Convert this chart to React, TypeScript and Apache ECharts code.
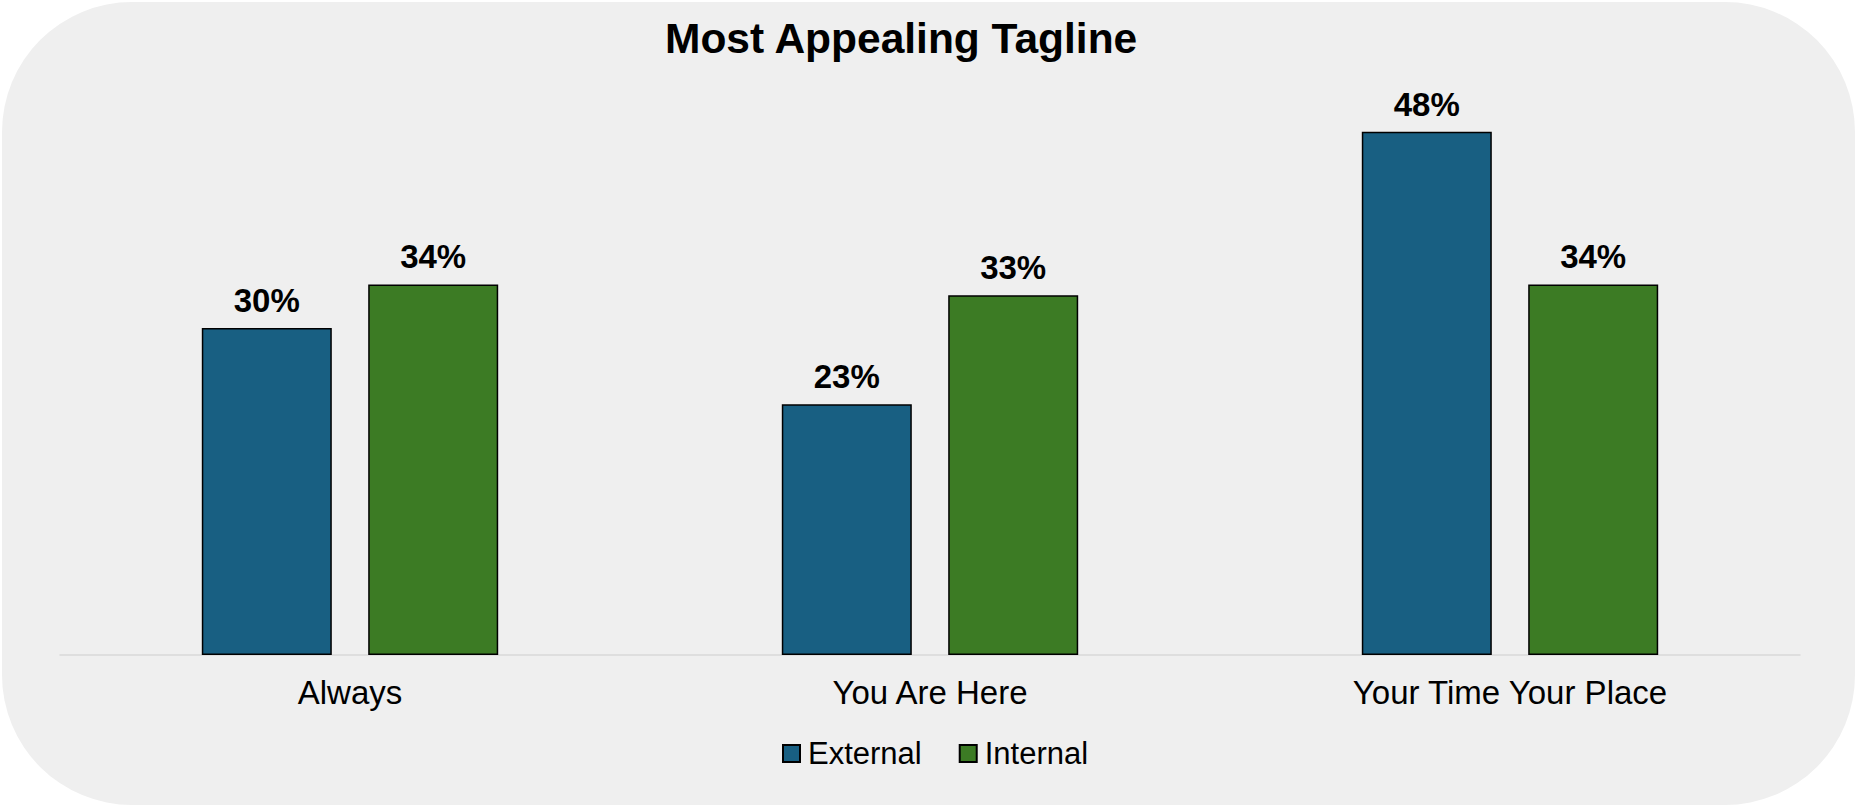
import React, { useEffect, useRef } from "react";
import * as echarts from "echarts";

const categories = ["Always", "You Are Here", "Your Time Your Place"];
const externalValues = [30, 23, 48];
const internalValues = [34, 33, 34];
const seriesNames = ["External", "Internal"];
const titleText = "Most Appealing Tagline";

const FONT = "'Liberation Sans', Arial, sans-serif";

export default function App() {
  const ref = useRef<HTMLDivElement>(null);
  useEffect(() => {
    if (!ref.current) return;
    const chart = echarts.init(ref.current, null, { renderer: "svg" });
    const labelCfg = {
      show: true,
      position: "top",
      distance: 11,
      formatter: "{c}%",
      fontFamily: FONT,
      fontWeight: "bold",
      fontSize: 33,
      color: "#000",
    };
    chart.setOption({
      animation: false,
      backgroundColor: "#ffffff",
      graphic: [
        {
          type: "rect",
          z: -10,
          shape: { x: 2, y: 2, width: 1853, height: 803, r: 130 },
          style: { fill: "#EFEFEF" },
        },
      ],
      title: {
        text: titleText,
        left: 665,
        top: 17,
        padding: 0,
        textStyle: { fontFamily: FONT, fontWeight: "bold", fontSize: 42.5, color: "#000" },
      },
      legend: {
        data: seriesNames,
        left: 782,
        top: 738,
        padding: 0,
        itemWidth: 17,
        itemHeight: 17,
        itemGap: 37,
        icon: "rect",
        textStyle: { fontFamily: FONT, fontSize: 31, color: "#000", padding: [0, 0, 0, 3] },
      },
      grid: { left: 60, right: 57, top: 110, bottom: 153, containLabel: false },
      xAxis: {
        type: "category",
        data: categories,
        axisLine: { show: true, lineStyle: { color: "#D9D9D9", width: 1.5 } },
        axisTick: { show: false },
        axisLabel: { fontFamily: FONT, fontSize: 33, color: "#000", margin: 21 },
      },
      yAxis: {
        type: "value",
        min: 0,
        max: 50,
        show: false,
        splitLine: { show: false },
      },
      series: [
        {
          name: seriesNames[0],
          type: "bar",
          data: externalValues,
          barWidth: 130,
          barGap: "28%",
          itemStyle: { color: "#185F82", borderColor: "#000", borderWidth: 1.5 },
          label: labelCfg,
        },
        {
          name: seriesNames[1],
          type: "bar",
          data: internalValues,
          barWidth: 130,
          barGap: "28%",
          itemStyle: { color: "#3C7B24", borderColor: "#000", borderWidth: 1.5 },
          label: labelCfg,
        },
      ],
    });
    return () => chart.dispose();
  }, []);
  return (
    <div
      ref={ref}
      style={{ position: "fixed", left: 0, top: 0, width: 1857, height: 808 }}
    />
  );
}
